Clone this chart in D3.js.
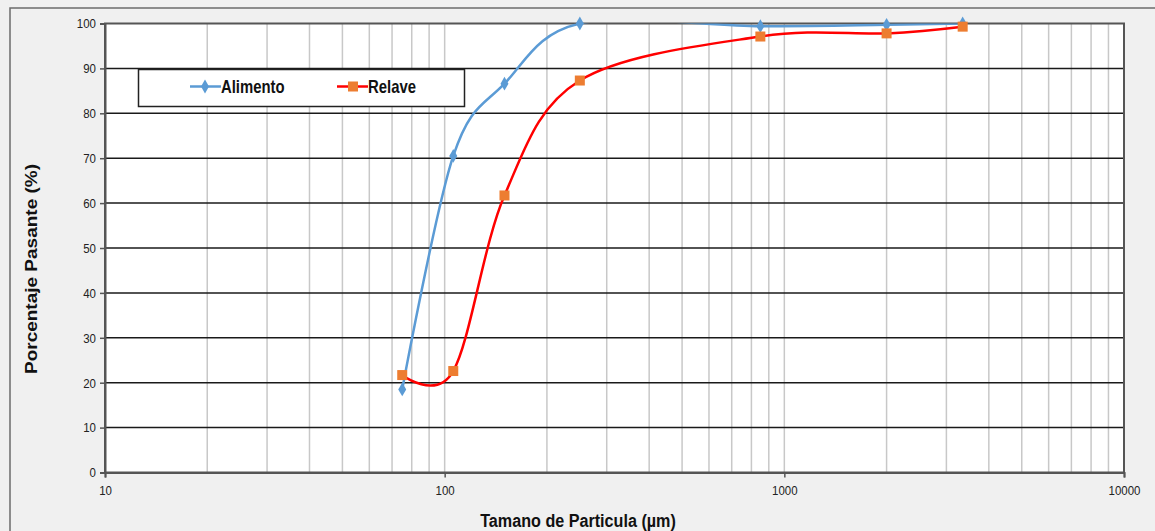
<!DOCTYPE html>
<html>
<head>
<meta charset="utf-8">
<script src="https://cdn.jsdelivr.net/npm/d3@7"></script>
<style>
  html, body { margin: 0; padding: 0; background: #f0f0f0; }
  svg { display: block; }
  text { font-family: "Liberation Sans", Arial, sans-serif; }
</style>
</head>
<body>
<svg id="chart" width="1155" height="531"></svg>
<script>
// Particle size (µm) of each sieve
const sizes = [75, 106, 150, 250, 850, 2000, 3350];
// Cumulative percent passing
const alimento = [18.5, 70.5, 86.6, 100, 99.4, 99.7, 100];
const relave = [21.7, 22.6, 61.7, 87.3, 97.1, 97.8, 99.3];
const seriesNames = ["Alimento", "Relave"];
const xTickValues = [10, 100, 1000, 10000];
const yTickValues = [0, 10, 20, 30, 40, 50, 60, 70, 80, 90, 100];

const svg = d3.select("#chart");
const W = 1155, H = 531;
const plot = { left: 105, right: 1124, top: 23.5, bottom: 472.5 };
const SQ = 0.85; // horizontal condensing of the lettering

// outer chart frame
svg.append("rect").attr("x", 0).attr("y", 0).attr("width", W).attr("height", H).attr("fill", "#f0f0f0");
svg.append("rect").attr("x", 10).attr("y", 8).attr("width", W + 20).attr("height", H + 20)
  .attr("fill", "#f0f0f0").attr("stroke", "#6b6b6b").attr("stroke-width", 1.5);

const x = d3.scaleLog().domain([10, 10000]).range([plot.left, plot.right]);
const y = d3.scaleLinear().domain([0, 100]).range([plot.bottom, plot.top]);

// plot area
svg.append("rect").attr("x", plot.left).attr("y", plot.top)
  .attr("width", plot.right - plot.left).attr("height", plot.bottom - plot.top).attr("fill", "#ffffff");

// vertical log gridlines (1..9 in every decade)
const gridX = [];
for (let e = 1; e < 4; e++) for (let m = 1; m <= 9; m++) gridX.push(m * Math.pow(10, e));
svg.append("g").selectAll("line").data(gridX.filter(v => v > 10)).join("line")
  .attr("x1", d => x(d)).attr("x2", d => x(d))
  .attr("y1", plot.top).attr("y2", plot.bottom)
  .attr("stroke", "#c8c8c8").attr("stroke-width", 1.5);

// horizontal gridlines
svg.append("g").selectAll("line").data(yTickValues.filter(v => v > 0 && v < 100)).join("line")
  .attr("x1", plot.left).attr("x2", plot.right)
  .attr("y1", d => y(d)).attr("y2", d => y(d))
  .attr("stroke", "#1a1a1a").attr("stroke-width", 1.5);

// plot border
svg.append("rect").attr("x", plot.left).attr("y", plot.top)
  .attr("width", plot.right - plot.left).attr("height", plot.bottom - plot.top)
  .attr("fill", "none").attr("stroke", "#555555").attr("stroke-width", 2);

// axes
const yAxis = d3.axisLeft(y).tickValues(yTickValues).tickSize(5).tickPadding(4).tickFormat(d3.format("d"));
const gy = svg.append("g").attr("transform", `translate(${plot.left},0)`).call(yAxis);
const xAxis = d3.axisBottom(x).tickValues(xTickValues).tickSize(5).tickPadding(8).tickFormat(d3.format("d"));
const gx = svg.append("g").attr("transform", `translate(0,${plot.bottom})`).call(xAxis);
[gx, gy].forEach(g => {
  g.select(".domain").attr("stroke", "#555555").attr("stroke-width", 2);
  g.selectAll(".tick line").attr("stroke", "#555555").attr("stroke-width", 1.5);
  g.selectAll(".tick text").attr("font-size", 13.5).attr("fill", "#222");
});
// condense tick labels around their own anchor points
gy.selectAll(".tick text").each(function () {
  const t = d3.select(this), tx = +t.attr("x");
  t.attr("x", 0).attr("transform", `translate(${tx},0) scale(${SQ},1)`);
});
gx.selectAll(".tick text").attr("transform", `scale(${SQ},1)`);

// axis titles
svg.append("text")
  .attr("transform", `translate(578,527) scale(${SQ},1)`).attr("text-anchor", "middle")
  .attr("font-size", 19).attr("font-weight", "bold").attr("fill", "#111")
  .text("Tamano de Particula (µm)");
svg.append("text")
  .attr("transform", `translate(37,269) scale(${SQ},1) rotate(-90)`).attr("text-anchor", "middle")
  .attr("font-size", 19).attr("font-weight", "bold").attr("fill", "#111")
  .text("Porcentaje Pasante (%)");

// smoothed series lines, clipped to the plot area
svg.append("clipPath").attr("id", "plotclip").append("rect")
  .attr("x", plot.left).attr("y", plot.top).attr("width", plot.right - plot.left).attr("height", plot.bottom - plot.top);

const line = d3.line().x(d => x(d[0])).y(d => y(d[1])).curve(d3.curveCatmullRom.alpha(0));
const blue = "#5b9bd5", red = "#ff0000", orange = "#ed7d31";

const aPts = sizes.map((s, i) => [s, alimento[i]]);
const rPts = sizes.map((s, i) => [s, relave[i]]);

svg.append("path").attr("d", line(aPts)).attr("clip-path", "url(#plotclip)")
  .attr("fill", "none").attr("stroke", blue).attr("stroke-width", 2.5);
svg.append("path").attr("d", line(rPts)).attr("clip-path", "url(#plotclip)")
  .attr("fill", "none").attr("stroke", red).attr("stroke-width", 2.5);

const diamond = d3.symbol().type(d3.symbolDiamond).size(55);
svg.append("g").selectAll("path").data(aPts).join("path")
  .attr("d", diamond).attr("transform", d => `translate(${x(d[0])},${y(d[1])})`).attr("fill", blue);
svg.append("g").selectAll("rect").data(rPts).join("rect")
  .attr("x", d => x(d[0]) - 5).attr("y", d => y(d[1]) - 5).attr("width", 10).attr("height", 10).attr("fill", orange);

// legend
const lg = svg.append("g");
lg.append("rect").attr("x", 138.5).attr("y", 69.5).attr("width", 326).attr("height", 37)
  .attr("fill", "#ffffff").attr("stroke", "#222").attr("stroke-width", 1.5);
const legendItems = [
  { name: seriesNames[0], x0: 190, color: blue, marker: "diamond" },
  { name: seriesNames[1], x0: 337, color: red, marker: "square" }
];
legendItems.forEach(it => {
  const ly = 86.5;
  lg.append("line").attr("x1", it.x0).attr("x2", it.x0 + 31).attr("y1", ly).attr("y2", ly)
    .attr("stroke", it.color).attr("stroke-width", 2.5);
  if (it.marker === "diamond") {
    lg.append("path").attr("d", diamond).attr("transform", `translate(${it.x0 + 15},${ly})`).attr("fill", blue);
  } else {
    lg.append("rect").attr("x", it.x0 + 11).attr("y", ly - 5).attr("width", 10).attr("height", 10).attr("fill", orange);
  }
  lg.append("text").attr("transform", `translate(${it.x0 + 31},${ly + 6}) scale(${SQ},1)`)
    .attr("font-size", 17.5).attr("font-weight", "bold").attr("fill", "#111").text(it.name);
});
</script>
</body>
</html>
